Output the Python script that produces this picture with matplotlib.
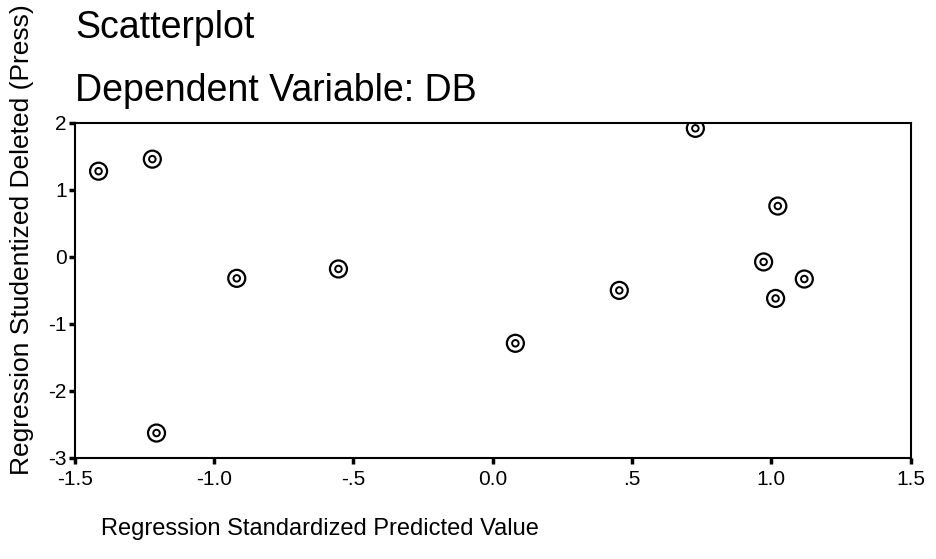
import matplotlib
matplotlib.use("Agg")
import matplotlib.pyplot as plt

# regression residual data
pred_x = [-1.415, -1.222, -0.919, -0.554, 0.727, 1.023, 0.972, 0.454, 1.015, 0.081, 1.118, -1.207]
resid_y = [1.28, 1.46, -0.32, -0.18, 1.92, 0.76, -0.075, -0.50, -0.62, -1.29, -0.33, -2.63]

xticks = [-1.5, -1.0, -0.5, 0.0, 0.5, 1.0, 1.5]
xtick_labels = ["-1.5", "-1.0", "-.5", "0.0", ".5", "1.0", "1.5"]
yticks = [2, 1, 0, -1, -2, -3]
ytick_labels = ["2", "1", "0", "-1", "-2", "-3"]

plt.rcParams["font.family"] = ["Liberation Sans", "DejaVu Sans"]

fig = plt.figure(figsize=(9.36, 5.59), dpi=100)
ax = fig.add_axes([0.080, 0.181, 0.893, 0.599])

# double-ring markers
ax.scatter(pred_x, resid_y, s=150, facecolors="none", edgecolors="black", linewidths=1.6, zorder=3)
ax.scatter(pred_x, resid_y, s=22, facecolors="none", edgecolors="black", linewidths=1.4, zorder=3)

ax.set_xlim(-1.5, 1.5)
ax.set_ylim(-3, 2)
ax.set_xticks(xticks)
ax.set_xticklabels(xtick_labels, fontsize=15)
ax.set_yticks(yticks)
ax.set_yticklabels(ytick_labels, fontsize=15)
ax.tick_params(axis="both", direction="out", length=4, width=2.5, pad=2)
ax.tick_params(axis="x", pad=5)
for sp in ax.spines.values():
    sp.set_linewidth(1.5)

# titles
fig.text(0.080, 1 - 38 / 559, "Scatterplot", fontsize=27, va="baseline", ha="left")
fig.text(0.080, 1 - 101 / 559, "Dependent Variable: DB", fontsize=27, va="baseline", ha="left")

fig.text(101 / 936, 1 - 535 / 559, "Regression Standardized Predicted Value",
         fontsize=17, va="baseline", ha="left")
fig.text(22 / 936, 1 - 240 / 559, "Regression Studentized Deleted (Press)",
         fontsize=19, va="center", ha="center", rotation=90)

fig.savefig("out.png", dpi=100)
